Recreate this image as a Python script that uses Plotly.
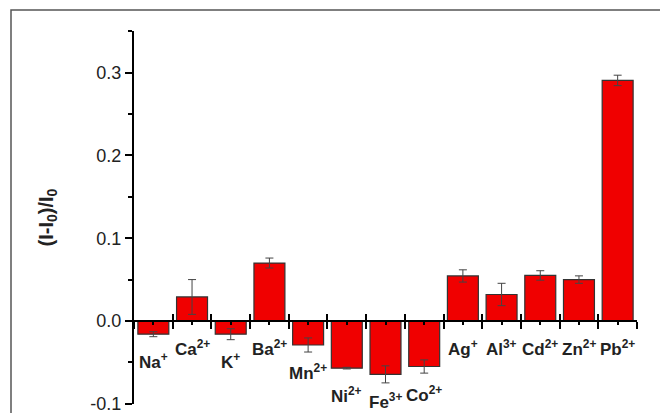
import plotly.graph_objects as go

ions = ["Na<sup>+</sup>", "Ca<sup>2+</sup>", "K<sup>+</sup>", "Ba<sup>2+</sup>", "Mn<sup>2+</sup>",
        "Ni<sup>2+</sup>", "Fe<sup>3+</sup>", "Co<sup>2+</sup>", "Ag<sup>+</sup>", "Al<sup>3+</sup>",
        "Cd<sup>2+</sup>", "Zn<sup>2+</sup>", "Pb<sup>2+</sup>"]
values = [-0.016, 0.029, -0.016, 0.070, -0.029, -0.057, -0.0645, -0.055, 0.0544, 0.032, 0.055, 0.050, 0.2906]
errors = [0.003, 0.021, 0.0066, 0.006, 0.0085, 0.001, 0.0103, 0.008, 0.0074, 0.0135, 0.0057, 0.0045, 0.0063]
ytick_vals = [-0.1, 0.0, 0.1, 0.2, 0.3]
ytick_text = ["-0.1", "0.0", "0.1", "0.2", "0.3"]

FONT = "Arial, Liberation Sans, sans-serif"
xs = list(range(len(ions)))
y_range = [-0.1003, 0.3503]
zero_pos = (0 - y_range[0]) / (y_range[1] - y_range[0])

fig = go.Figure()
fig.add_trace(go.Bar(
    x=xs, y=values, width=0.8,
    marker=dict(color="#F00000", line=dict(color="#333333", width=1.2)),
    error_y=dict(type="data", array=errors, visible=True, color="#444444", thickness=1, width=4),
))

boundaries = [i - 0.5 for i in range(len(ions) + 1)]

fig.update_layout(
    width=660, height=413,
    margin=dict(l=134, r=23, t=31, b=9),
    paper_bgcolor="white", plot_bgcolor="white",
    showlegend=False,
    font=dict(family=FONT, color="black"),
    xaxis=dict(
        range=[-0.5, len(ions) - 0.5], anchor="free", position=zero_pos,
        showline=True, linecolor="black", linewidth=2, automargin=False,
        tickmode="array", tickvals=boundaries, ticks="outside", ticklen=7, tickwidth=2, tickcolor="black",
        minor=dict(tickmode="array", tickvals=xs, ticks="outside", ticklen=3, tickwidth=1.5, tickcolor="black"),
        showticklabels=False, showgrid=False, zeroline=False,
    ),
    xaxis2=dict(
        range=[-0.5, len(ions) - 0.5], overlaying="x", matches="x", anchor="free", position=zero_pos,
        showline=False, automargin=False,
        tickmode="array", tickvals=boundaries, ticks="inside", ticklen=7, tickwidth=2, tickcolor="black",
        showticklabels=False, showgrid=False, zeroline=False,
    ),
    yaxis=dict(
        range=y_range, showline=True, linecolor="black", linewidth=2, automargin=False,
        tickmode="array", tickvals=ytick_vals, ticktext=ytick_text,
        ticks="outside", ticklen=7, tickwidth=2, tickcolor="black",
        minor=dict(tickmode="array", tickvals=[-0.05, 0.05, 0.15, 0.25, 0.35], ticks="outside",
                   ticklen=4, tickwidth=2, tickcolor="black"),
        tickfont=dict(size=18, family=FONT, color="#222"),
        ticklabeloverflow="allow",
        showgrid=False, zeroline=False,
    ),
)

# invisible trace to bind xaxis2
fig.add_trace(go.Scatter(x=[None], y=[None], xaxis="x2", showlegend=False, hoverinfo="skip"))

for i, (lab, v) in enumerate(zip(ions, values)):
    fig.add_annotation(x=i, y=min(0, v), xref="x", yref="y", text="<b>" + lab + "</b>",
                       showarrow=False, yshift=-27, xanchor="center", yanchor="middle",
                       font=dict(size=17, family=FONT, color="#222"))

fig.add_annotation(x=(47 - 134) / 503, y=0.5, xref="paper", yref="paper",
                   text="<b>(I-I<sub>0</sub>)/I<sub>0</sub></b>", textangle=-90,
                   xanchor="center", yanchor="middle",
                   showarrow=False, font=dict(size=20, family=FONT, color="#222"))

fig.add_shape(type="rect", xref="paper", yref="paper",
              x0=(11 - 134) / 503, x1=1.2, y0=-0.2, y1=1 + 21 / 373,
              line=dict(color="#555555", width=1.5), fillcolor="rgba(0,0,0,0)", layer="below")

fig.write_html("out.html", config={"displayModeBar": False},
               post_script="document.body.style.margin='0';document.body.style.padding='0';")
